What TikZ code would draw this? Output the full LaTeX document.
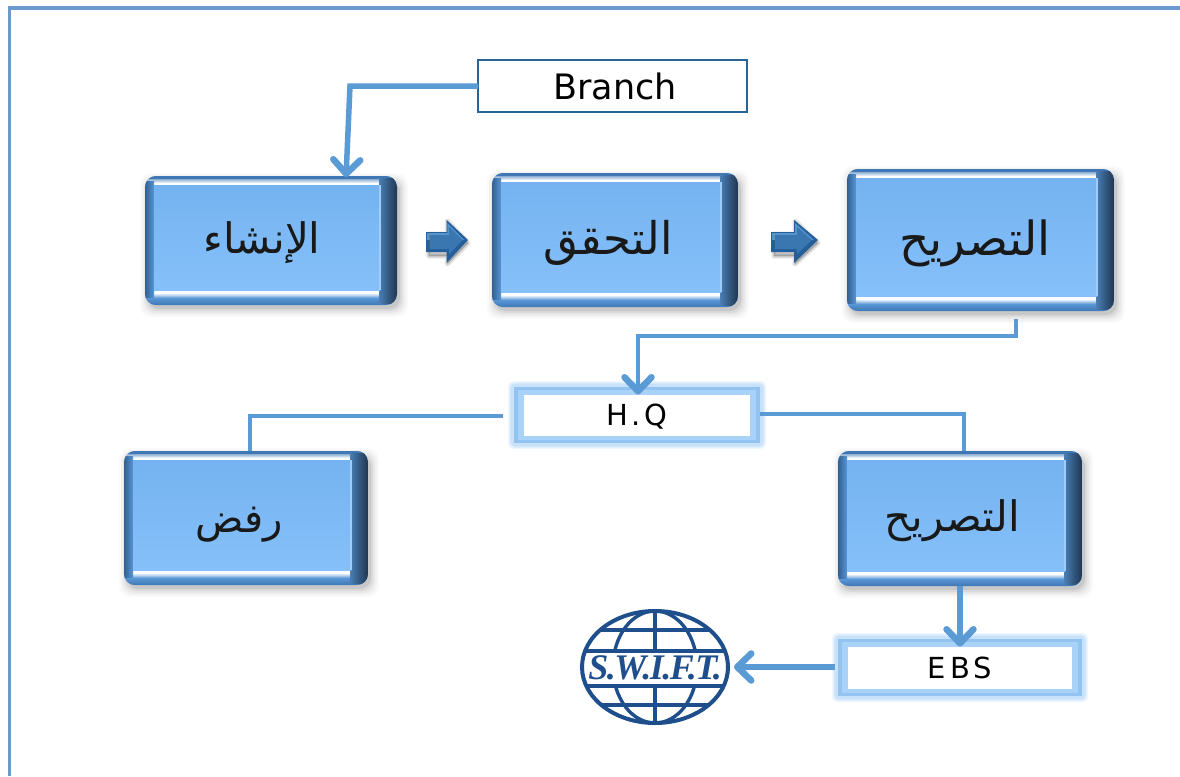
\documentclass[tikz,border=0pt]{standalone}
\usepackage{fontspec}
\setmainfont{DejaVu Sans}
\newfontfamily\arabicfont[Script=Arabic]{DejaVu Sans}
\newfontfamily\spacedfont[LetterSpace=14]{DejaVu Sans}
\newfontfamily\swiftfont[LetterSpace=-4]{Liberation Serif}
\TeXXeTstate=1
\usetikzlibrary{arrows.meta,shapes.geometric,calc}
\definecolor{linkblue}{HTML}{5B9BD5}
\definecolor{framecol}{HTML}{6A9BCF}
\definecolor{faceA}{HTML}{74B3F0}
\definecolor{faceB}{HTML}{86C0FA}
\definecolor{darkbevel}{HTML}{1F3650}
\definecolor{midbevel}{HTML}{5896D6}
\definecolor{rimbevel}{HTML}{3F78B4}
\definecolor{glowA}{HTML}{C8E2FB}
\definecolor{glowB}{HTML}{93C3F1}
\definecolor{glowC}{HTML}{A9D2F8}
\definecolor{swiftblue}{HTML}{1F4E8C}
\definecolor{branchedge}{HTML}{2A6496}
\definecolor{arrowedge}{HTML}{245F9C}
\definecolor{arrowface}{HTML}{3A76B0}
\tikzset{
  link/.style={draw=linkblue,line width=5.5pt,line join=miter},
  thinlink/.style={draw=linkblue,line width=4.5pt,line join=miter},
  tip/.style={-{Straight Barb[length=14pt,width=27pt,line width=6.5pt,round]}},
  boxframe/.style={rectangle,inner sep=0pt,outer sep=0pt,draw=none},
  plainbox/.style={rectangle,draw=branchedge,line width=1.8pt,fill=white,inner sep=0pt,outer sep=0pt},
  globeline/.style={draw=swiftblue,line width=3.4pt},
}
% name, x0, y0, x1, y1, text, text x, text y, font size
\newcommand{\bevelbox}[9]{%
  \foreach \s/\o in {9/0.02,7/0.03,5/0.04,3/0.06,1/0.08}{
    \fill[black,opacity=\o,rounded corners=11pt] ($(#2-\s+4,#3-\s+6)$) rectangle ($(#4+\s+2,#5+\s+3)$);
  }
  \begin{scope}
    \clip[rounded corners=11pt] (#2,#3) rectangle (#4,#5);
    \fill[midbevel] (#2,#3) rectangle (#4,#5);
    \fill[rimbevel] (#2,#3) rectangle (#4,{#3+3});
    \shade[top color=rimbevel!60!white,bottom color=white] ($(#2,#3+3)$) rectangle ($(#4,#3+7)$);
    \fill[white] ($(#2+4,#3+7)$) rectangle ($(#4,#3+9)$);
    \fill[white] ($(#2+4,#5-15)$) rectangle ($(#4,#5-12)$);
    \shade[top color=white,bottom color=midbevel] ($(#2,#5-12)$) rectangle ($(#4,#5-7)$);
    \shade[top color=midbevel,bottom color=rimbevel] ($(#2,#5-7)$) rectangle (#4,#5);
    \shade[left color=rimbevel!80!black,right color=midbevel] ($(#2,#3+5)$) rectangle ($(#2+9,#5-8)$);
    \shade[left color=midbevel!75!darkbevel,right color=darkbevel] ($(#4-18,#3+2)$) -- ($(#4-18,#5-2)$) -- ($(#4,#5-2)$) -- ($(#4,#3+2)$) -- cycle;
  \end{scope}
  \shade[top color=faceA,bottom color=faceB] ($(#2+9,#3+9)$) rectangle ($(#4-17,#5-15)$);
  \fill[faceB!80!white] ($(#4-18.5,#3+9)$) rectangle ($(#4-16.5,#5-15)$);
  \node[boxframe,minimum width={#4-#2},minimum height={#5-#3}] (#1) at ($(#2,#3)!0.5!(#4,#5)$) {};
  \node[inner sep=0pt,text=black!90,font=\fontsize{#9}{#9}\selectfont\arabicfont] (#1text) at (#7,#8) {\beginR #6\endR};
}
% name, x0, y0, x1, y1, text
\newcommand{\glowbox}[6]{%
  \foreach \s/\o in {3/0.25,2/0.35,1/0.5}{
    \fill[glowA,opacity=\o,rounded corners=5pt] ($(#2-\s,#3-\s)$) rectangle ($(#4+\s,#5+\s)$);
  }
  \fill[glowA,rounded corners=4pt] (#2,#3) rectangle (#4,#5);
  \fill[glowB] ($(#2+3,#3+3)$) rectangle ($(#4-3,#5-3)$);
  \fill[glowC] ($(#2+7,#3+6)$) rectangle ($(#4-7,#5-6)$);
  \node[rectangle,fill=white,inner sep=0pt,outer sep=0pt,text depth=0pt,minimum width={#4-#2-26},minimum height={#5-#3-21},font=\fontsize{29}{34}\selectfont\spacedfont,text=black] (#1) at ($(#2,#3)!0.5!(#4,#5)$) {#6};
}
% name, left x, width
\newcommand{\blockarrow}[3]{%
  \begin{scope}[shift={(#2,240)},x={(#3pt/47,0pt)}]
    \foreach \s/\o in {6/0.05,4/0.07,2/0.09}{
      \draw[black,opacity=\o,line width=\s pt,fill=black,line join=round] (3,-6) -- (24,-6) -- (24,-19) -- (47,3) -- (24,24) -- (24,16) -- (3,16) -- cycle;
    }
    \fill[arrowedge] (0,-8) -- (23,-8) -- (23,-20) -- (47,0) -- (23,23) -- (23,12) -- (0,12) -- cycle;
    \fill[linkblue!80!arrowface] (1,-7) -- (24,-7) -- (24,-17) -- (43,0) -- (24,0) -- (1,0) -- cycle;
    \fill[arrowface] (4,-5) -- (26,-5) -- (26,-13) -- (41,0) -- (26,14) -- (26,9) -- (4,9) -- cycle;
    \coordinate (#1) at (23,0);
  \end{scope}
}
\begin{document}
\begin{tikzpicture}[x=1pt,y=-1pt]
\useasboundingbox (0,0) rectangle (1180,776);
\fill[white] (0,0) rectangle (1180,776);
\draw[draw=framecol,line width=3.2pt] (9.5,776) -- (9.5,8) -- (1180,8);

\bevelbox{create}{145}{176}{397}{305}{الإنشاء}{262}{243}{42}
\bevelbox{verify}{492}{173}{738}{307}{التحقق}{608}{243}{45}
\bevelbox{approve}{847}{169}{1114}{311}{التصريح}{975}{243}{47}
\bevelbox{reject}{124}{451}{368}{585}{رفض}{239}{525}{40}
\bevelbox{approveb}{838}{451}{1082}{586}{التصريح}{952}{521}{42}

\node[plainbox,minimum width=269pt,minimum height=52pt,font=\fontsize{35}{40}\selectfont] (branch) at (612.5,86) {\hspace*{5pt}Branch};
\glowbox{hq}{511}{384}{763}{446}{H.Q}
\glowbox{ebs}{835}{636}{1085}{699}{EBS}

\blockarrow{arrowa}{426}{42}
\blockarrow{arrowb}{771}{47}

% globe
\node[ellipse,inner sep=0pt,outer sep=0pt,minimum width=148pt,minimum height=114pt,draw=none] (swift) at (655,667) {};
\begin{scope}
  \clip (655,667) ellipse [x radius=73,y radius=56];
  \draw[globeline] (655,600) -- (655,735);
  \draw[globeline] (655,667) ellipse [x radius=42,y radius=56];
  \draw[globeline] (560,630) -- (750,630);
  \draw[globeline] (560,705) -- (750,705);
  \fill[white] (570,651) rectangle (740,686);
  \draw[globeline] (560,651) -- (750,651);
  \draw[globeline] (560,686) -- (750,686);
\end{scope}
\draw[globeline,line width=4pt] (655,667) ellipse [x radius=73,y radius=56];
\node[inner sep=0pt,text=swiftblue,font=\fontsize{36}{40}\selectfont\swiftfont\bfseries\itshape] (swiftname) at (655,668) {S.W.I.F.T.};

% connectors
\coordinate (bendA) at (350,86);
\coordinate (tipA) at (346,177);
\coordinate (startB) at (1016,319);
\coordinate (bendB) at (1016,336);
\coordinate (bendC) at (638,336);
\coordinate (hqleft) at (503,416);
\coordinate (bendL) at (250,416);
\coordinate (hqright) at (760,414);
\coordinate (bendR) at (964,414);
\coordinate (ebsleft) at (835,667);
\coordinate (ebscol) at (960,640);
\coordinate (swifttip) at (734,667);

\draw[link,tip] (branch.west) -- (bendA) -- (tipA);
\draw[thinlink,tip] (startB) -- (bendB) -- (bendC) -- (hq.north -| bendC);
\draw[thinlink] (hqleft) -- (bendL) -- (reject.north -| bendL);
\draw[thinlink] (hqright) -- (bendR) -- (approveb.north -| bendR);
\draw[link,tip] (approveb.south -| ebscol) -- (ebs.north -| ebscol);
\draw[link,tip] (ebsleft) -- (swifttip);
\end{tikzpicture}
\end{document}
